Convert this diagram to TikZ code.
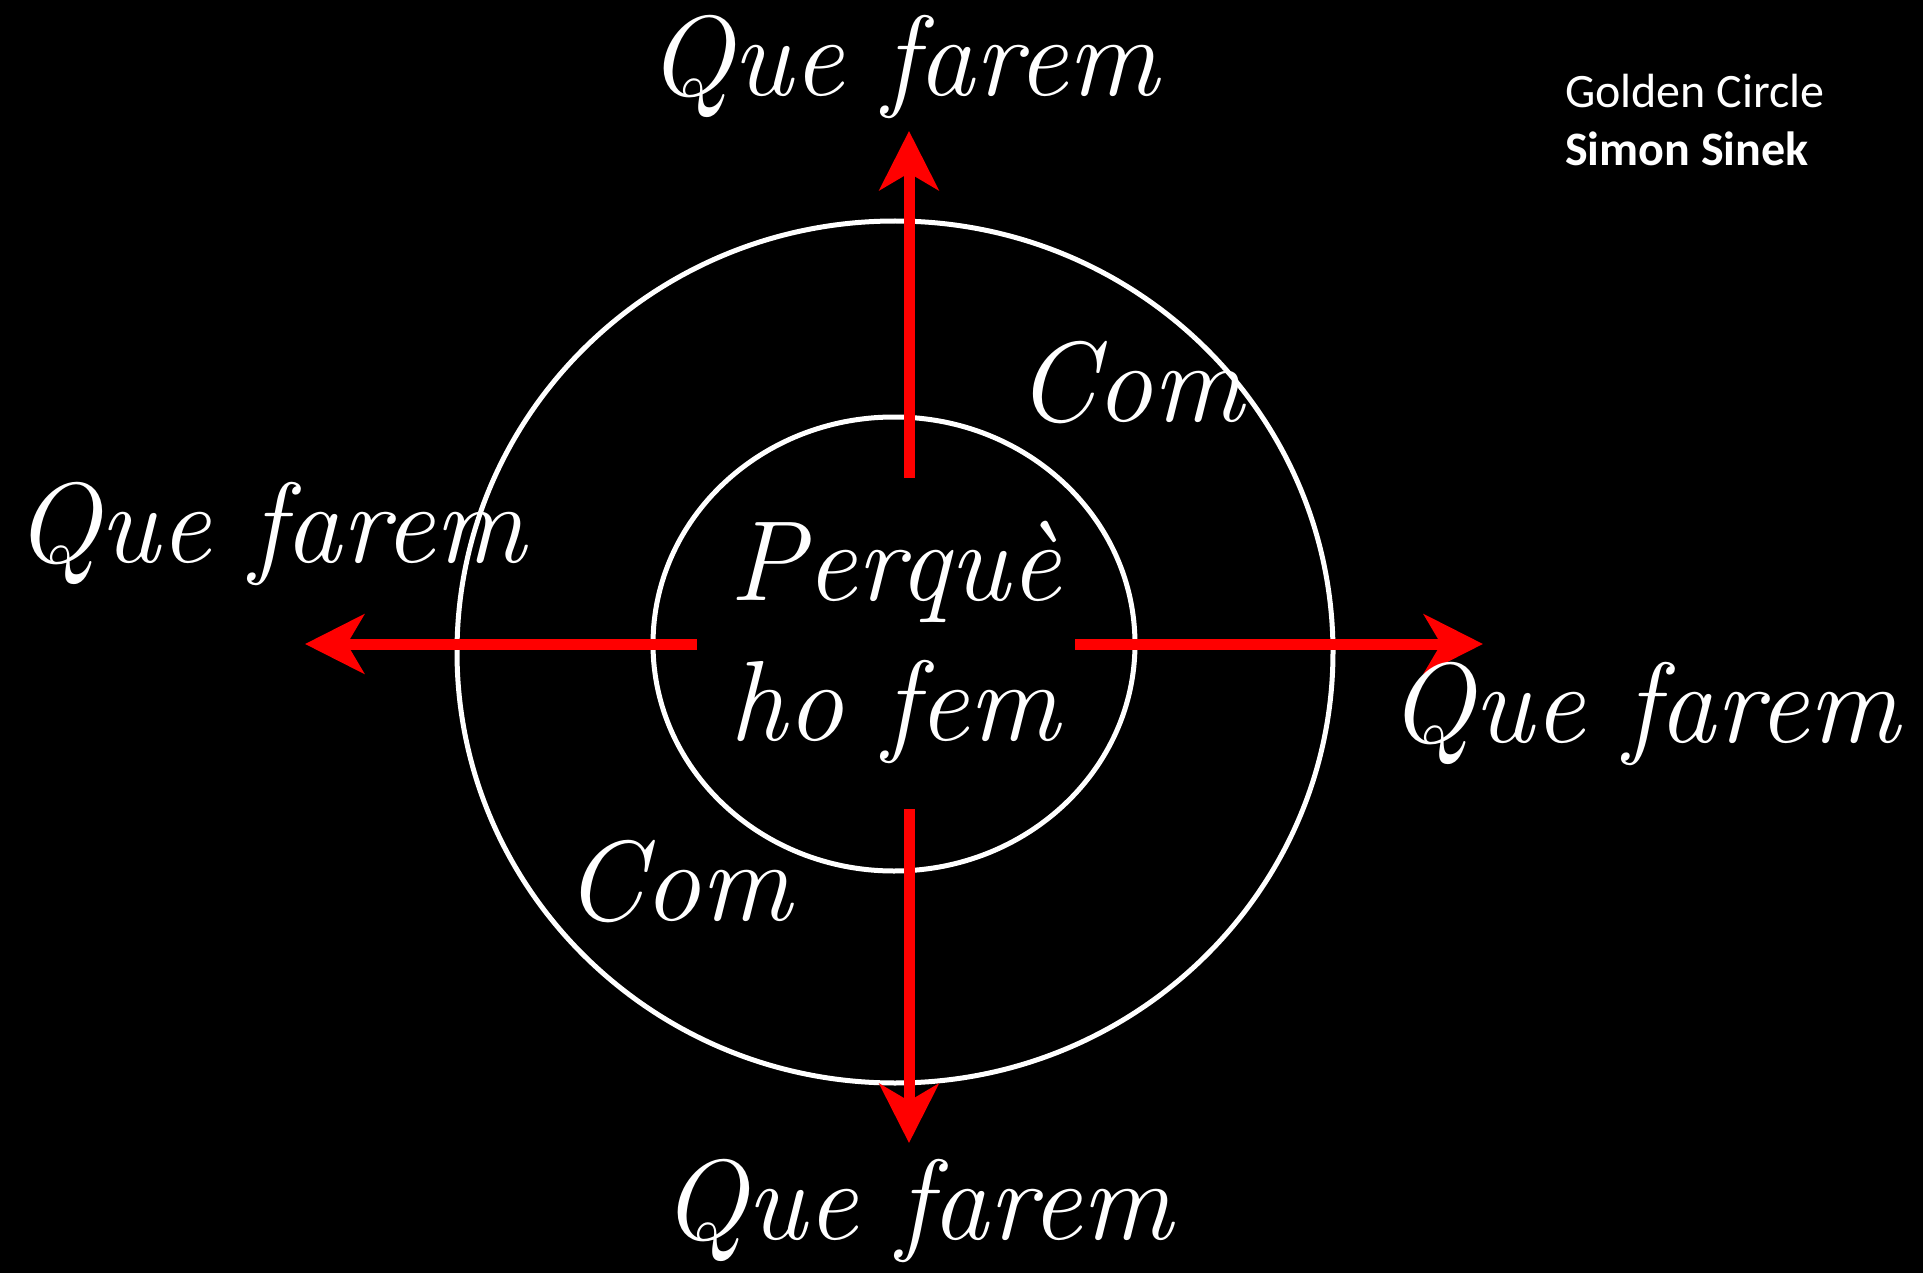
\documentclass[tikz,border=0pt]{standalone}
\usepackage{fontspec}
\setsansfont{Carlito}
\usetikzlibrary{arrows.meta}

\begin{document}
\begin{tikzpicture}[x=1pt,y=-1pt,
  hand/.style={text=white,font=\fontsize{114}{140}\selectfont\itshape,anchor=base,inner sep=0pt,align=center},
  ring/.style={draw=white,line width=5pt},
  ray/.style={draw=red,line width=11pt,-{Stealth[length=59pt,width=59pt,inset=17pt]}},
  tag/.style={text=white,font=\fontsize{48}{56}\selectfont\sffamily,anchor=base west,inner sep=0pt}]
  \fill[black] (0,0) rectangle (1923,1273);
  % the two circles
  \coordinate (cOut) at (895,652);
  \coordinate (cIn) at (894,644);
  \draw[ring] (cOut) ellipse [x radius=438, y radius=431];
  \draw[ring] (cIn) ellipse [x radius=241, y radius=227];
  % arrows
  \coordinate (upS) at (909,478);  \coordinate (upE) at (909,131);
  \coordinate (dnS) at (909,809);  \coordinate (dnE) at (909,1143);
  \coordinate (lfS) at (697,644);  \coordinate (lfE) at (305,644);
  \coordinate (rtS) at (1075,644); \coordinate (rtE) at (1483,644);
  \draw[ray] (upS) -- (upE);
  \draw[ray] (dnS) -- (dnE);
  \draw[ray] (lfS) -- (lfE);
  \draw[ray] (rtS) -- (rtE);
  % labels
  \node[hand] (why) at (895,740) {Perquè\\ho fem};
  \node[hand] (howUp) at (1130,421) {Com};
  \node[hand] (howDn) at (678,920) {Com};
  \node[hand] (whatUp) at (903,96) {Que farem};
  \node[hand] (whatLf) at (270,562) {Que farem};
  \node[hand] (whatRt) at (1644,742) {Que farem};
  \node[hand] (whatDn) at (917,1239) {Que farem};
  \node[tag] (title) at (1565,108) {Golden Circle};
  \node[tag,font=\fontsize{48}{56}\selectfont\sffamily\bfseries] (author) at (1565,166) {Simon Sinek};
\end{tikzpicture}
\end{document}
